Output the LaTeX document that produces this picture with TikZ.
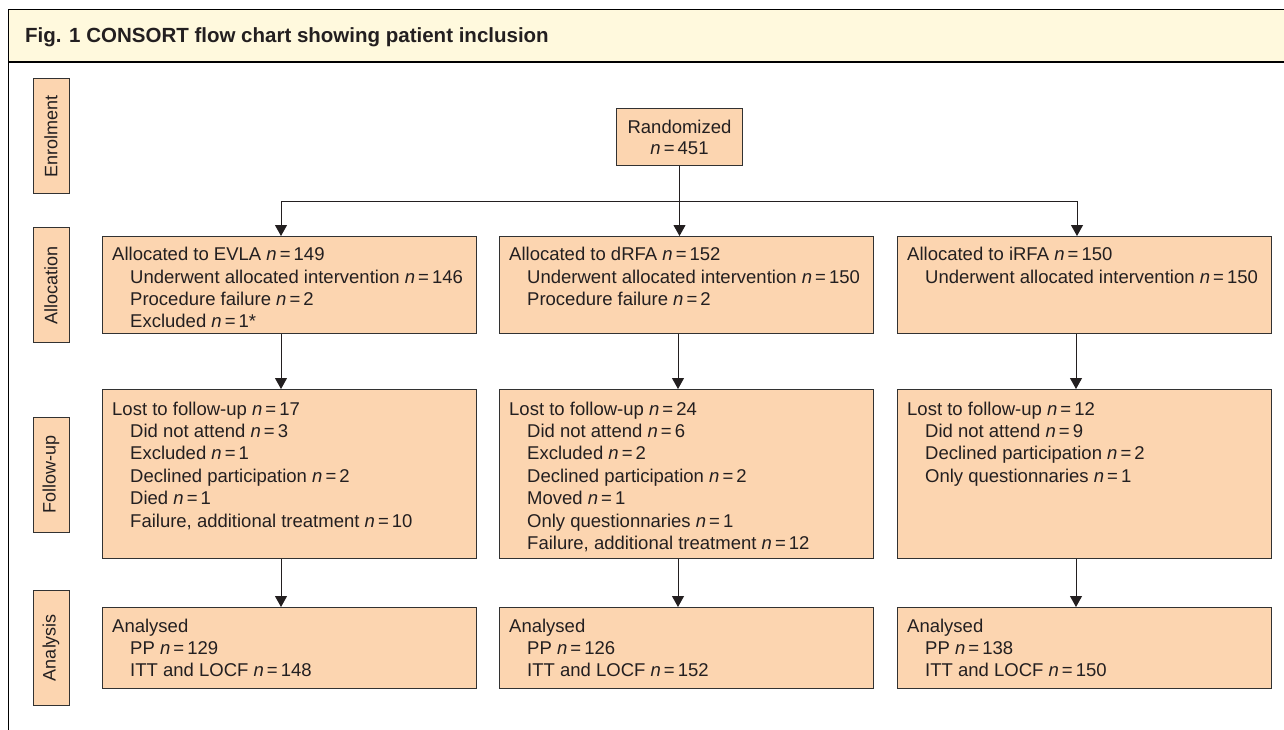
\documentclass[tikz,border=0pt]{standalone}
\usepackage{fontspec}
\setmainfont{Liberation Sans}
\usetikzlibrary{arrows.meta,calc}
\definecolor{peach}{RGB}{252,213,176}
\definecolor{titlebg}{RGB}{255,249,221}
\definecolor{ink}{RGB}{35,31,32}
\definecolor{edge}{RGB}{50,50,50}
\newcommand{\nn}[1]{\textit{n}\,=\,#1}
\newcommand{\ind}{\hspace*{18pt}}
\begin{document}
\begin{tikzpicture}[x=1pt,y=-1pt,
 box/.style={draw=edge, line width=1pt, fill=peach, rectangle, inner sep=0pt, minimum width=374pt, anchor=north west},
 txt/.style={anchor=north west, inner sep=0pt, align=left, text=ink, font=\fontsize{18.5}{22.4}\selectfont},
 stagebox/.style={draw=edge, line width=1pt, fill=peach, rectangle, inner sep=0pt, minimum width=115pt, minimum height=36pt, rotate=90, text=ink, font=\fontsize{18}{20}\selectfont},
 conn/.style={draw=ink, line width=1pt},
 arr/.style={conn, -{Triangle[width=12pt,length=11pt]}}]
\useasboundingbox (0,0) rectangle (1284,730);
\fill[white] (0,0) rectangle (1284,730);
% title bar
\fill[titlebg] (8,10) rectangle (1284,62);
\draw[black, line width=1pt] (1284,10) -- (8,10) -- (8,730);
\draw[black, line width=1.6pt] (8,62) -- (1284,62);
\node[anchor=base west, inner sep=0pt, text=ink, font=\fontsize{20.5}{24}\selectfont\bfseries] (title) at (25,42.5) {Fig. 1 CONSORT flow chart showing patient inclusion};

% stage labels
\node[stagebox] (sEnrol) at (51,136.5) {Enrolment};
\node[stagebox] (sAlloc) at (51,285) {Allocation};
\node[stagebox] (sFollow) at (51,474.5) {Follow-up};
\node[stagebox] (sAnal) at (51,647.5) {Analysis};

% randomized
\node[box, minimum width=126pt, minimum height=57pt, align=center, text=ink, font=\fontsize{18.5}{21}\selectfont] (rand) at (616,108) {Randomized\\\nn{451}};

% allocation row
\node[box, minimum height=97pt] (a1) at (102,236) {};
\node[box, minimum height=97pt] (a2) at (499,236) {};
\node[box, minimum height=97pt] (a3) at (897,236) {};
\node[txt] (ta1) at ($(a1.north west)+(10,11)$) {Allocated to EVLA \nn{149}\\\ind Underwent allocated intervention \nn{146}\\\ind Procedure failure \nn{2}\\\ind Excluded \nn{1}*};
\node[txt] (ta2) at ($(a2.north west)+(10,11)$) {Allocated to dRFA \nn{152}\\\ind Underwent allocated intervention \nn{150}\\\ind Procedure failure \nn{2}};
\node[txt] (ta3) at ($(a3.north west)+(10,11)$) {Allocated to iRFA \nn{150}\\\ind Underwent allocated intervention \nn{150}};

% follow-up row
\node[box, minimum height=169pt] (f1) at (102,389) {};
\node[box, minimum height=169pt] (f2) at (499,389) {};
\node[box, minimum height=169pt] (f3) at (897,389) {};
\node[txt] (tf1) at ($(f1.north west)+(10,12.4)$) {Lost to follow-up \nn{17}\\\ind Did not attend \nn{3}\\\ind Excluded \nn{1}\\\ind Declined participation \nn{2}\\\ind Died \nn{1}\\\ind Failure, additional treatment \nn{10}};
\node[txt] (tf2) at ($(f2.north west)+(10,12.4)$) {Lost to follow-up \nn{24}\\\ind Did not attend \nn{6}\\\ind Excluded \nn{2}\\\ind Declined participation \nn{2}\\\ind Moved \nn{1}\\\ind Only questionnaries \nn{1}\\\ind Failure, additional treatment \nn{12}};
\node[txt] (tf3) at ($(f3.north west)+(10,12.4)$) {Lost to follow-up \nn{12}\\\ind Did not attend \nn{9}\\\ind Declined participation \nn{2}\\\ind Only questionnaries \nn{1}};

% analysis row
\node[box, minimum height=81pt] (n1) at (102,607) {};
\node[box, minimum height=81pt] (n2) at (499,607) {};
\node[box, minimum height=81pt] (n3) at (897,607) {};
\node[txt] (tn1) at ($(n1.north west)+(10,11.5)$) {Analysed\\\ind PP \nn{129}\\\ind ITT and LOCF \nn{148}};
\node[txt] (tn2) at ($(n2.north west)+(10,11.5)$) {Analysed\\\ind PP \nn{126}\\\ind ITT and LOCF \nn{152}};
\node[txt] (tn3) at ($(n3.north west)+(10,11.5)$) {Analysed\\\ind PP \nn{138}\\\ind ITT and LOCF \nn{150}};

% connectors
\coordinate (hl) at ($(a1.north west)+(179,-35)$);
\coordinate (hr) at ($(a3.north west)+(180,-35)$);
\coordinate (hm) at (rand.south |- hl);
\draw[conn] (hl) -- (hr);
\draw[conn] (rand.south) -- (hm);
\draw[arr] (hl) -- (hl |- a1.north);
\draw[arr] (hm) -- (hm |- a2.north);
\draw[arr] (hr) -- (hr |- a3.north);
\foreach \c in {1,2,3}{
  \draw[arr] ($(a\c.south west)+(179,0)$) -- ($(f\c.north west)+(179,0)$);
  \draw[arr] ($(f\c.south west)+(179,0)$) -- ($(n\c.north west)+(179,0)$);
}
\end{tikzpicture}
\end{document}
